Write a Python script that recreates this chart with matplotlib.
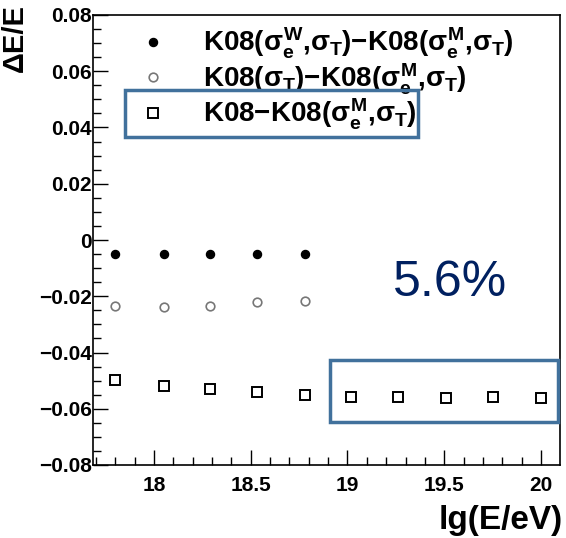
import matplotlib
matplotlib.use("Agg")
import matplotlib.pyplot as plt
from matplotlib.patches import Rectangle
from matplotlib.ticker import MultipleLocator, FuncFormatter

plt.rcParams['font.family'] = ['Liberation Sans', 'DejaVu Sans']
plt.rcParams['mathtext.fontset'] = 'custom'
plt.rcParams['mathtext.rm'] = 'Liberation Sans:bold'
plt.rcParams['mathtext.it'] = 'Liberation Sans:bold'
plt.rcParams['mathtext.bf'] = 'Liberation Sans:bold'

# data
lgE_low = [17.80, 18.05, 18.29, 18.53, 18.78]
lgE_all = [17.80, 18.05, 18.29, 18.53, 18.78, 19.02, 19.26, 19.51, 19.75, 20.00]
d_weight = [-0.0050, -0.0050, -0.0050, -0.0050, -0.0050]
d_sigmaT = [-0.0236, -0.0238, -0.0233, -0.0222, -0.0218]
d_k08 = [-0.0498, -0.0519, -0.0530, -0.0541, -0.0551,
         -0.0558, -0.0558, -0.0562, -0.0558, -0.0562]
labels = [r"K08($\sigma_{e}^{W}$,$\sigma_{T}$)$-$K08($\sigma_{e}^{M}$,$\sigma_{T}$)",
          r"K08($\sigma_{T}$)$-$K08($\sigma_{e}^{M}$,$\sigma_{T}$)",
          r"K08$-$K08($\sigma_{e}^{M}$,$\sigma_{T}$)"]
annotation = "5.6%"

W, H = 566, 538
fig = plt.figure(figsize=(W/100, H/100), dpi=100)
ax = fig.add_axes([93/W, 1-465/H, (560-93)/W, (465-15)/H])

ax.plot(lgE_low, d_weight, 'o', ls='none', color='black', ms=5.8, label=labels[0])
ax.plot(lgE_low, d_sigmaT, 'o', ls='none', mfc='white', mec='#777777', mew=1.2, ms=6.2, label=labels[1])
ax.plot(lgE_all, d_k08, 's', ls='none', mfc='white', mec='black', mew=1.4, ms=6.5, label=labels[2])

ax.set_xlim(17.685, 20.098)
ax.set_ylim(-0.08, 0.08)
ax.xaxis.set_major_locator(MultipleLocator(0.5))
ax.xaxis.set_minor_locator(MultipleLocator(0.1))
ax.yaxis.set_major_locator(MultipleLocator(0.02))
ax.yaxis.set_minor_locator(MultipleLocator(0.005))

def yfmt(v, p):
    if abs(v) < 1e-9:
        return "0"
    return ("%.2f" % v).replace("-", "\u2212")
def xfmt(v, p):
    return ("%g" % v)
ax.yaxis.set_major_formatter(FuncFormatter(yfmt))
ax.xaxis.set_major_formatter(FuncFormatter(xfmt))

ax.tick_params(which='both', direction='in', top=False, right=False, width=1)
ax.tick_params(which='major', length=11)
ax.tick_params(which='minor', length=5.5)
ax.tick_params(axis='y', which='major', pad=1, labelsize=15)
ax.tick_params(axis='x', which='major', pad=8, labelsize=15)
for lab in ax.get_xticklabels() + ax.get_yticklabels():
    lab.set_fontweight('bold')
for s in ax.spines.values():
    s.set_linewidth(1.2)

leg = ax.legend(loc='upper left', bbox_to_anchor=(0.075, 1.0), frameon=False,
                prop={'size': 20, 'weight': 'bold'}, handlelength=1.0,
                handletextpad=1.3, labelspacing=0.0, borderaxespad=0)

fig.text(15/W, 1-4/H, "\u0394E/E", rotation=90, ha='center', va='top',
         fontsize=21, fontweight='bold')
fig.text(563/W, 1-536/H, "lg(E/eV)", ha='right', va='bottom',
         fontsize=24, fontweight='bold')
fig.text(450/W, 1-283/H, annotation, ha='center', va='center',
         fontsize=36, color='#002060')

box_color = '#41719C'
for (x0, y0, x1, y1) in [(125, 90, 418, 137), (330, 360, 558, 422)]:
    fig.patches.append(Rectangle((x0/W, 1-y1/H), (x1-x0)/W, (y1-y0)/H,
                                 transform=fig.transFigure, fill=False,
                                 ec=box_color, lw=2.5))

fig.savefig("out.png", dpi=100)
